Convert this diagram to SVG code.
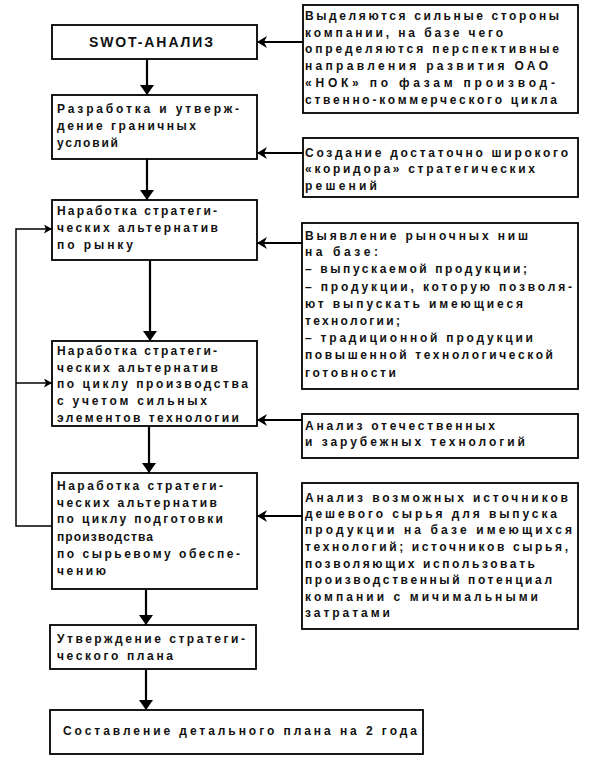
<svg xmlns="http://www.w3.org/2000/svg" width="603" height="776" viewBox="0 0 603 776">
<style>
  .box { fill: #fff; stroke: #000; stroke-width: 1.8; }
  .t { font-family: "Liberation Sans", Arial, sans-serif; font-size: 12px; font-weight: bold; fill: #111; }
  .title { font-family: "Liberation Sans", Arial, sans-serif; font-size: 14px; font-weight: bold; fill: #111; }
  .c { fill: none; stroke: #000; stroke-width: 2.2; }
  .thin { fill: none; stroke: #000; stroke-width: 1.5; }
</style>
<defs>
  <marker id="down" markerUnits="userSpaceOnUse" markerWidth="10" markerHeight="14" viewBox="0 0 10 14" refX="10" refY="7" orient="auto">
    <path d="M0,0 L10,7 L0,14 z" fill="#000"/>
  </marker>
  <marker id="side" markerUnits="userSpaceOnUse" markerWidth="10" markerHeight="12" viewBox="0 0 10 12" refX="10" refY="6" orient="auto">
    <path d="M0,0 L10,6 L0,12 L3,6 z" fill="#000"/>
  </marker>
  <marker id="small" markerUnits="userSpaceOnUse" markerWidth="8" markerHeight="9" viewBox="0 0 8 9" refX="8" refY="4.5" orient="auto">
    <path d="M0,0 L8,4.5 L0,9 L2,4.5 z" fill="#000"/>
  </marker>
</defs>
<rect width="603" height="776" fill="#fff"/>

<g id="connectors">
  <line class="c" x1="147" y1="59" x2="147" y2="95" marker-end="url(#down)"/>
  <line class="c" x1="147" y1="159" x2="147" y2="200" marker-end="url(#down)"/>
  <line class="c" x1="150" y1="260" x2="150" y2="341" marker-end="url(#down)"/>
  <line class="c" x1="149" y1="426" x2="149" y2="473" marker-end="url(#down)"/>
  <line class="c" x1="146" y1="589" x2="146" y2="625" marker-end="url(#down)"/>
  <line class="c" x1="146" y1="669" x2="146" y2="710" marker-end="url(#down)"/>
  <line class="c" x1="303" y1="42" x2="257" y2="42" marker-end="url(#side)"/>
  <line class="c" x1="303" y1="153" x2="257" y2="153" marker-end="url(#side)"/>
  <line class="c" x1="302" y1="243" x2="257" y2="243" marker-end="url(#side)"/>
  <line class="c" x1="302" y1="420" x2="257" y2="420" marker-end="url(#side)"/>
  <line class="c" x1="302" y1="516" x2="257" y2="516" marker-end="url(#side)"/>
  <path class="thin" d="M52,526 H16 V229 H52" marker-end="url(#small)"/>
  <line class="thin" x1="16" y1="383" x2="52" y2="383" marker-end="url(#small)"/>
</g>

<g id="swot">
  <rect class="box" x="52" y="25" width="205" height="34"/>
  <text class="title" x="89" y="47" textLength="124" lengthAdjust="spacing">SWOT-АНАЛИЗ</text>
</g>

<g id="boundary">
  <rect class="box" x="52" y="95" width="205" height="64"/>
  <text class="t" x="57" y="113" textLength="182" lengthAdjust="spacing">Разработка и утверж-</text>
  <text class="t" x="57" y="130" textLength="139" lengthAdjust="spacing">дение граничных</text>
  <text class="t" x="57" y="147" textLength="61" lengthAdjust="spacing">условий</text>
</g>

<g id="market">
  <rect class="box" x="52" y="200" width="205" height="60"/>
  <text class="t" x="57" y="215" textLength="160" lengthAdjust="spacing">Наработка стратеги-</text>
  <text class="t" x="57" y="232" textLength="161" lengthAdjust="spacing">ческих альтернатив</text>
  <text class="t" x="57" y="249" textLength="76" lengthAdjust="spacing">по рынку</text>
</g>

<g id="production">
  <rect class="box" x="52" y="341" width="205" height="85"/>
  <text class="t" x="57" y="355" textLength="160" lengthAdjust="spacing">Наработка стратеги-</text>
  <text class="t" x="57" y="372" textLength="161" lengthAdjust="spacing">ческих альтернатив</text>
  <text class="t" x="57" y="388" textLength="191" lengthAdjust="spacing">по циклу производства</text>
  <text class="t" x="57" y="405" textLength="150" lengthAdjust="spacing">с учетом сильных</text>
  <text class="t" x="57" y="422" textLength="182" lengthAdjust="spacing">элементов технологии</text>
</g>

<g id="raw">
  <rect class="box" x="52" y="473" width="205" height="116"/>
  <text class="t" x="57" y="490" textLength="166" lengthAdjust="spacing">Наработка стратеги-</text>
  <text class="t" x="57" y="507" textLength="160" lengthAdjust="spacing">ческих альтернатив</text>
  <text class="t" x="57" y="523" textLength="166" lengthAdjust="spacing">по циклу подготовки</text>
  <text class="t" x="57" y="541" textLength="96" lengthAdjust="spacing">производства</text>
  <text class="t" x="57" y="558" textLength="183" lengthAdjust="spacing">по сырьевому обеспе-</text>
  <text class="t" x="57" y="575" textLength="49" lengthAdjust="spacing">чению</text>
</g>

<g id="approve">
  <rect class="box" x="50" y="625" width="206" height="44"/>
  <text class="t" x="57" y="643" textLength="188" lengthAdjust="spacing">Утверждение стратеги-</text>
  <text class="t" x="57" y="660" textLength="116" lengthAdjust="spacing">ческого плана</text>
</g>

<g id="detail">
  <rect class="box" x="50" y="710" width="373" height="44"/>
  <text class="t" x="63" y="735" textLength="354" lengthAdjust="spacing">Составление детального плана на 2 года</text>
</g>

<g id="strengths">
  <rect class="box" x="303" y="5" width="275" height="108"/>
  <text class="t" x="305" y="20" textLength="254" lengthAdjust="spacing">Выделяются сильные стороны</text>
  <text class="t" x="305" y="37" textLength="198" lengthAdjust="spacing">компании, на базе чего</text>
  <text class="t" x="305" y="53" textLength="254" lengthAdjust="spacing">определяются перспективные</text>
  <text class="t" x="305" y="70" textLength="243" lengthAdjust="spacing">направления развития ОАО</text>
  <text class="t" x="305" y="87" textLength="250" lengthAdjust="spacing">«НОК» по фазам производ-</text>
  <text class="t" x="305" y="104" textLength="252" lengthAdjust="spacing">ственно-коммерческого цикла</text>
</g>

<g id="corridor">
  <rect class="box" x="303" y="138" width="275" height="59"/>
  <text class="t" x="305" y="157" textLength="263" lengthAdjust="spacing">Создание достаточно широкого</text>
  <text class="t" x="305" y="173" textLength="230" lengthAdjust="spacing">«коридора» стратегических</text>
  <text class="t" x="305" y="190" textLength="72" lengthAdjust="spacing">решений</text>
</g>

<g id="niches">
  <rect class="box" x="302" y="223" width="276" height="166"/>
  <text class="t" x="305" y="240" textLength="223" lengthAdjust="spacing">Выявление рыночных ниш</text>
  <text class="t" x="305" y="256" textLength="73" lengthAdjust="spacing">на базе:</text>
  <text class="t" x="305" y="273" textLength="222" lengthAdjust="spacing">– выпускаемой продукции;</text>
  <text class="t" x="305" y="291" textLength="267" lengthAdjust="spacing">– продукции, которую позволя-</text>
  <text class="t" x="305" y="308" textLength="218" lengthAdjust="spacing">ют выпускать имеющиеся</text>
  <text class="t" x="305" y="325" textLength="95" lengthAdjust="spacing">технологии;</text>
  <text class="t" x="305" y="342" textLength="228" lengthAdjust="spacing">– традиционной продукции</text>
  <text class="t" x="305" y="359" textLength="248" lengthAdjust="spacing">повышенной технологической</text>
  <text class="t" x="305" y="377" textLength="91" lengthAdjust="spacing">готовности</text>
</g>

<g id="tech">
  <rect class="box" x="302" y="414" width="276" height="44"/>
  <text class="t" x="305" y="430" textLength="190" lengthAdjust="spacing">Анализ отечественных</text>
  <text class="t" x="305" y="446" textLength="220" lengthAdjust="spacing">и зарубежных технологий</text>
</g>

<g id="sources">
  <rect class="box" x="302" y="483" width="276" height="146"/>
  <text class="t" x="305" y="502" textLength="263" lengthAdjust="spacing">Анализ возможных источников</text>
  <text class="t" x="305" y="518" textLength="252" lengthAdjust="spacing">дешевого сырья для выпуска</text>
  <text class="t" x="305" y="534" textLength="267" lengthAdjust="spacing">продукции на базе имеющихся</text>
  <text class="t" x="305" y="551" textLength="263" lengthAdjust="spacing">технологий; источников сырья,</text>
  <text class="t" x="305" y="568" textLength="230" lengthAdjust="spacing">позволяющих использовать</text>
  <text class="t" x="305" y="584" textLength="247" lengthAdjust="spacing">производственный потенциал</text>
  <text class="t" x="305" y="601" textLength="233" lengthAdjust="spacing">компании с мичимальными</text>
  <text class="t" x="305" y="617" textLength="85" lengthAdjust="spacing">затратами</text>
</g>
</svg>
